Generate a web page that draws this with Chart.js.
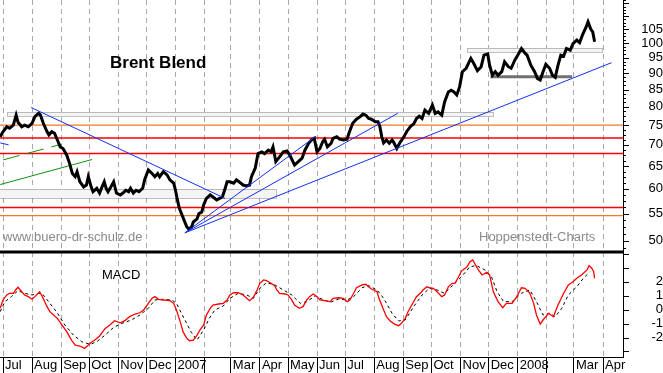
<!DOCTYPE html>
<html>
<head>
<meta charset="utf-8">
<script src="https://cdn.jsdelivr.net/npm/chart.js@4"></script>
<style>
  html, body { margin: 0; padding: 0; background: #fff; }
</style>
</head>
<body>
<canvas id="chart" width="663" height="373"></canvas>
<script>
// x values are days counted from 1 July 2006
const monthStarts = [0, 31, 62, 92, 123, 153, 184, 215, 243, 274, 304, 335, 365, 396, 427, 457, 488, 518, 549, 580, 609, 640];
const monthLabels = ['Jul', 'Aug', 'Sep', 'Oct', 'Nov', 'Dec', '2007', '', 'Mar', 'Apr', 'May', 'Jun',
                     'Jul', 'Aug', 'Sep', 'Oct', 'Nov', 'Dec', '2008', '', 'Mar', 'Apr'];
const priceTicks = [50, 55, 60, 65, 70, 75, 80, 85, 90, 95, 100, 105];
const macdTicks = [-2, -1, 0, 1, 2];

// Brent closing prices
const priceDays = [-3,0,4,7,11,14,16,20,23,27, 31,34,38,40,43,47,49,52,55,58, 61,64,68,71,74,77,79,82,86,89,
  91,94,96,100,103,105,108,110,112,115, 118,121,125,128,131,134,136,139,142,145, 149,151,155,159,162,165,167,171,175,178,
  182,184,186,188,191,193,196,198,201,203, 207,209,212,214,217,221,224,228,231,234, 237,239,242,246,249,253,256,260,263,265,
  269,272,276,279,283,286,288,291,295,299, 303,306,311,315,319,322,326,329,332,335, 338,341,343,346,350,352,356,359,363,367,
  369,373,377,381,384,387,390,393,397,400, 402,404,406,409,412,415,417,420,423,427, 431,435,438,441,444,447,450,454,458,461,
  464,468,471,475,478,481,484,487,490,494, 499,502,506,510,513,517,519,522,525,528, 532,535,539,542,546,549,553,557,559,563,
  567,570,573,576,579,583,586,589,592,595, 598,601,605,608,612,615,618,622,624,627, 629,631];
const brent = [72.0,73.3,74.6,74.2,75.0,77.7,75.8,74.6,75.0,74.6, 75.5,77.3,78.2,77.7,75.5,73.3,72.5,73.3,72.9,71.2,
  69.5,69.1,67.5,65.6,63.3,62.6,63.7,61.5,60.4,60.8, 62.6,60.4,59.4,60.1,59.1,60.1,61.5,60.1,59.4,60.4,
  61.5,59.1,58.7,59.1,59.7,59.4,60.1,59.1,59.7,59.4, 60.1,61.9,64.1,63.3,62.6,63.3,62.6,63.7,63.0,61.9,
  61.2,59.7,57.7,56.1,54.7,53.8,52.5,52.1,52.4,53.4, 54.0,55.0,55.3,56.7,58.0,58.7,58.3,57.7,58.0,58.3,
  60.1,61.5,61.5,61.2,61.9,61.3,60.8,60.6,60.8,62.6, 64.5,67.9,68.3,67.9,68.7,68.3,69.5,66.0,67.1,68.3,
  68.5,67.5,65.2,66.0,66.8,68.7,70.4,71.2,71.6,68.3, 69.1,70.8,71.4,69.5,70.4,71.6,72.0,71.4,71.2,71.4,
  72.9,75.5,76.6,77.3,78.0,77.7,76.8,76.6,75.9,75.9, 74.6,72.0,70.5,71.2,70.4,71.2,70.5,69.1,70.4,71.8,
  73.5,74.8,75.3,76.8,77.4,76.8,79.1,78.2,80.5,78.2, 78.6,77.7,81.4,84.3,84.8,84.3,83.4,85.8,90.5,91.6,
  94.8,93.2,90.8,92.1,95.9,96.3,92.6,89.4,90.5,89.4, 90.5,93.7,92.1,91.6,94.3,95.9,98.2,96.5,95.9,92.6,
  90.5,88.4,87.9,90.5,92.9,91.6,89.4,88.7,92.6,95.9, 95.6,98.2,97.6,99.9,101.1,100.2,102.9,105.9,107.8,105.0,
  104.1,100.5];

// MACD line and its signal line
const macdDays = [-3,0,4,7,11,14,16,20,23,27, 31,34,39,42,47,50,54,58,63,68, 73,77,82,87,91,95,98,103,109,114,
  119,125,130,135,141,146,150,155,159,162, 166,171,178,182,185,189,192,196,199,203, 207,210,214,217,221,224,230,235,239,242,
  246,251,256,260,263,267,271,274,278,281, 286,290,292,295,301,304,308,311,316,320, 324,327,331,335,338,349,352,358,363,367,
  370,374,377,383,387,390,393,399,401,406, 409,413,418,422,425,429,432,436,441,445, 448,452,455,459,463,468,471,475,479,482,
  486,489,495,498,501,503,507,511,516,519, 523,528,533,537,543,548,553,557,562,566, 569,573,576,582,587,592,598,603,608,612,
  617,623,625,628,630,631];
const macd = [0.10,0.70,1.06,1.18,1.18,1.47,1.61,1.29,1.06,0.94, 0.75,0.94,1.29,0.94,0.22,-0.14,-0.38,-0.62,-1.10,-1.58,
  -2.18,-2.54,-2.61,-2.78,-2.54,-2.30,-2.18,-1.89,-1.34,-1.10, -0.79,-0.94,-0.79,-0.50,-0.31,-0.22,-0.02,0.46,0.82,0.94,
  0.75,0.70,0.65,0.46,-0.02,-0.86,-1.58,-2.06,-2.23,-2.18, -1.82,-1.46,-1.10,-0.38,0.10,0.34,0.41,0.46,0.70,1.06,
  1.22,1.22,1.06,0.82,0.65,0.89,1.42,1.90,2.14,2.09, 1.90,1.71,1.42,1.18,1.13,1.06,0.70,0.34,0.10,0.22,
  0.70,0.94,1.13,0.94,0.70,0.58,0.82,0.86,0.82,0.58, 0.70,1.18,1.58,1.78,1.83,1.65,1.49,1.29,0.82,-0.02,
  -0.50,-0.81,-1.05,-1.15,-0.98,-0.62,-0.14,0.34,0.94,1.18, 1.42,1.65,1.58,1.54,1.29,0.94,1.06,1.65,1.90,1.90,
  2.37,2.78,3.09,3.45,3.58,3.34,2.86,2.50,2.69,2.50, 1.29,0.58,0.14,0.46,0.46,0.94,1.58,1.54,1.18,0.46,
  -0.38,-1.03,-0.74,-0.26,-0.50,0.34,1.18,1.78,2.01,2.26, 2.50,2.86,3.17,2.98,2.73,2.26];
const signalDays = [-3,2,9,16,23,31,38,43,50,57, 66,75,84,93,100,109,118,127,137,146, 155,162,171,180,185,194,201,207,214,220,
  226,235,242,251,260,267,274,281,290,299, 308,317,324,333,338,349,358,367,374,383, 390,399,406,415,422,429,438,447,455,463,
  471,480,489,498,505,514,521,527,534,543, 553,562,569,576,583,589,596,603,612,619, 626];
const signal = [-0.14,0.58,0.94,1.37,1.18,1.06,1.18,1.06,0.46,-0.14, -1.10,-1.82,-2.30,-2.49,-2.30,-1.82,-1.27,-0.98,-0.74,-0.38,
  0.10,0.70,0.75,0.70,0.46,-0.74,-1.65,-2.18,-1.46,-0.62, -0.02,0.27,0.82,1.18,1.06,0.82,1.54,1.94,1.78,1.42,
  1.06,0.46,0.58,0.99,0.82,0.53,0.77,0.70,0.94,1.58, 1.73,1.42,0.82,-0.26,-0.81,-0.74,0.22,1.06,1.54,1.42,
  1.18,1.78,2.37,3.09,3.17,2.86,2.37,1.29,0.58,0.58, 1.18,1.42,0.58,-0.38,-0.26,-0.50,0.10,1.06,1.65,2.26, 2.73];

// drawn analysis: horizontal levels, trend lines [day1, price1, day2, price2], zones [day1, day2, low, high]
const redLevels = [71.7, 67.9, 56.2];
const orangeLevels = [75, 54.6];
const blueTrends = [[-3, 70.5, 6, 70.0], [30, 79.8, 237, 58.0], [194, 51.4, 334, 72.2],
                    [194, 51.4, 421, 78.2], [194, 51.4, 649, 93.4]];
const greenTrend = [-3, 60.9, 95, 66.5];
const greenDashed = [0, 66.4, 63, 70.2];
const zones = [[4, 523, 77.4, 78.5], [-10, 291, 58.0, 59.9], [495, 639, 96.9, 98.2]];
const floorLine = [520, 607, 88.9];

const FONT = '"Liberation Sans", Arial, sans-serif';
const pts = (xs, ys) => xs.map((d, i) => ({x: d, y: ys[i]}));

function lineSet(data, color, width, axis, order, extra) {
  return Object.assign({
    type: 'line', data: data, borderColor: color, borderWidth: width,
    pointRadius: 0, fill: false, tension: 0, yAxisID: axis, order: order
  }, extra || {});
}

const datasets = [];
redLevels.forEach(v => datasets.push(lineSet([{x: -20, y: v}, {x: 700, y: v}], '#ff0000', 1.5, 'y', 6)));
orangeLevels.forEach(v => datasets.push(lineSet([{x: -20, y: v}, {x: 700, y: v}], '#f07828', 1.2, 'y', 6)));
datasets.push(lineSet([{x: greenTrend[0], y: greenTrend[1]}, {x: greenTrend[2], y: greenTrend[3]}], '#109010', 1, 'y', 5));
datasets.push(lineSet([{x: greenDashed[0], y: greenDashed[1]}, {x: greenDashed[2], y: greenDashed[3]}], '#109010', 1, 'y', 5,
  {borderDash: [17, 8]}));
datasets.push(lineSet([{x: floorLine[0], y: floorLine[2]}, {x: floorLine[1], y: floorLine[2]}], '#707070', 3, 'y', 5));
datasets.push(lineSet(pts(priceDays, brent), '#000000', 3, 'y', 2));
blueTrends.forEach(t => datasets.push(lineSet([{x: t[0], y: t[1]}, {x: t[2], y: t[3]}], '#1030f0', 1, 'y', 1)));
datasets.push(lineSet(pts(signalDays, signal), '#000000', 1, 'y2', 4, {borderDash: [3, 3]}));
datasets.push(lineSet(pts(macdDays, macd), '#ff0000', 1.3, 'y2', 3));

// keep the layout from reserving room for half label heights
function noPadding(s) {
  s.paddingTop = 0; s.paddingBottom = 0; s.paddingLeft = 0; s.paddingRight = 0;
}

const decorations = {
  id: 'decorations',
  beforeDatasetsDraw(chart) {
    const {ctx, chartArea: a, scales: {x, y}} = chart;
    ctx.save();
    ctx.beginPath();
    ctx.rect(a.left, a.top, a.right - a.left, y.bottom - a.top);
    ctx.clip();
    zones.forEach(z => {
      const x1 = Math.round(x.getPixelForValue(z[0])), x2 = Math.round(x.getPixelForValue(z[1]));
      const y1 = Math.round(y.getPixelForValue(z[3])), y2 = Math.round(y.getPixelForValue(z[2]));
      ctx.fillStyle = '#f4f4f4';
      ctx.fillRect(x1, y1, x2 - x1, y2 - y1);
      ctx.setLineDash([1, 1]);
      ctx.strokeStyle = '#808080';
      ctx.lineWidth = 1;
      ctx.strokeRect(x1 + 0.5, y1 + 0.5, x2 - x1, y2 - y1);
    });
    ctx.restore();
  },
  afterDatasetsDraw(chart) {
    const {ctx, chartArea: a, scales: {y, y2}} = chart;
    ctx.save();
    // panel divider
    ctx.fillStyle = '#000';
    ctx.fillRect(a.left, y.bottom - 1.5, y.left - a.left + 1, 3);
    // tick marks on the right axis
    ctx.strokeStyle = '#000';
    ctx.lineWidth = 1;
    ctx.beginPath();
    for (let v = 48.75; v < 117; v += 1.25) {
      const py = Math.round(y.getPixelForValue(v)) + 0.5;
      const len = (v % 5 === 0) ? 6 : 3;
      ctx.moveTo(y.left, py); ctx.lineTo(y.left + len, py);
    }
    for (let v = -3; v <= 4; v++) {
      const py = Math.round(y2.getPixelForValue(v)) + 0.5;
      ctx.moveTo(y2.left, py); ctx.lineTo(y2.left + 6, py);
    }
    ctx.stroke();
    // texts
    ctx.fillStyle = '#000';
    ctx.font = 'bold 17px ' + FONT;
    ctx.textBaseline = 'alphabetic';
    ctx.fillText('Brent Blend', 110, 68);
    ctx.font = '13px ' + FONT;
    ctx.fillText('MACD', 102, 279);
    ctx.fillStyle = '#8a8a8a';
    ctx.fillText('www.buero-dr-schulz.de', 3, 241);
    ctx.fillText('Hoppenstedt-Charts', 479, 241);
    ctx.restore();
  }
};

const hiddenTicks = {display: true, drawOnChartArea: false, drawTicks: true, tickColor: 'rgba(0,0,0,0)'};

new Chart(document.getElementById('chart'), {
  type: 'line',
  data: {datasets: datasets},
  options: {
    responsive: false,
    animation: false,
    events: [],
    layout: {padding: 0},
    plugins: {legend: {display: false}, tooltip: {enabled: false}},
    scales: {
      x: {
        type: 'linear', min: -3.2, max: 661.3,
        afterBuildTicks: s => { s.ticks = monthStarts.map(v => ({value: v})); },
        afterFit: s => { s.height = 16; noPadding(s); },
        ticks: {
          autoSkip: false, maxRotation: 0, align: 'start', labelOffset: 2, padding: -15,
          color: '#000', font: {family: FONT, size: 13},
          callback: (v, i) => monthLabels[i]
        },
        grid: {color: '#a8a8a8', lineWidth: 1, tickLength: 16, tickColor: '#000', tickWidth: 1},
        border: {display: true, color: '#000', width: 1, dash: [5, 4]}
      },
      y: {
        type: 'logarithmic', position: 'right', stack: 'panels', stackWeight: 252,
        min: 48.06, max: 116.4, bounds: 'data',
        afterBuildTicks: s => { s.ticks = priceTicks.map(v => ({value: v})); },
        afterFit: s => { s.width = 40; noPadding(s); },
        ticks: {autoSkip: false, crossAlign: 'far', padding: 0, color: '#000',
                font: {family: FONT, size: 13}, callback: v => String(v)},
        grid: Object.assign({tickLength: 14}, hiddenTicks),
        border: {display: true, color: '#000', width: 1}
      },
      y2: {
        type: 'linear', position: 'right', stack: 'panels', stackWeight: 105,
        min: -3.40, max: 4.15, bounds: 'data',
        afterBuildTicks: s => { s.ticks = macdTicks.map(v => ({value: v})); },
        afterFit: s => { s.width = 40; noPadding(s); },
        ticks: {autoSkip: false, crossAlign: 'far', padding: 0, color: '#000',
                font: {family: FONT, size: 13}, callback: v => String(v)},
        grid: Object.assign({tickLength: 24}, hiddenTicks),
        border: {display: true, color: '#000', width: 1}
      }
    }
  },
  plugins: [decorations]
});
</script>
</body>
</html>
